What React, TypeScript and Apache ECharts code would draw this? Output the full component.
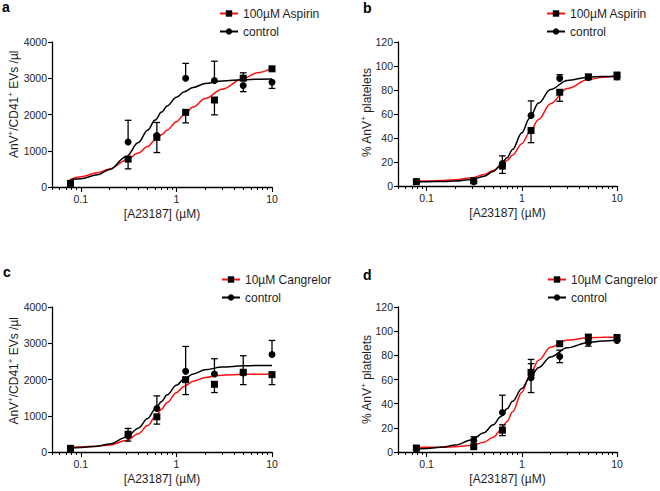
import React, { useEffect, useRef } from "react";
import * as echarts from "echarts";

// ---------- data ----------
const concentrations = [0.078, 0.3125, 0.625, 1.25, 2.5, 5, 10];
const fitConc = [0.078, 0.1, 0.15, 0.2, 0.3, 0.4, 0.5, 0.6, 0.7, 0.8, 1, 1.2, 1.5, 2, 3, 5, 7, 10];
const xTickValues = [0.1, 1, 10];
const xTickLabels = ["0.1", "1", "10"];
const xMin = 0.05;
const xMax = 10;

// Panel a: EVs, aspirin
const aControlMean = [110, 1240, 1420, 3000, 2940, 2800, 2890];
const aControlUp = [0, 600, 360, 410, 530, 0, 0];
const aControlDown = [0, 0, 0, 0, 0, 170, 170];
const aAspirinMean = [100, 770, 1370, 2060, 2400, 3000, 3260];
const aAspirinUp = [0, 0, 0, 0, 0, 150, 0];
const aAspirinDown = [0, 270, 420, 290, 410, 0, 0];
const aControlFit = [197, 230, 337, 483, 843, 1225, 1565, 1845, 2066, 2237, 2473, 2620, 2748, 2852, 2926, 2962, 2972, 2976];
const aAspirinFit = [211, 285, 395, 496, 745, 935, 1115, 1300, 1440, 1570, 1800, 1985, 2210, 2440, 2700, 2994, 3150, 3280];

// Panel b: % AnV+ platelets, aspirin
const bControlMean = [3.8, 3.6, 18.8, 58.8, 89.7, 90.5, 91.0];
const bControlUp = [0, 0, 6.3, 12.1, 3.0, 0, 0];
const bControlDown = [0, 0, 0, 0, 0, 0, 2.4];
const bAspirinMean = [3.6, 4.4, 16.6, 46.3, 78.1, 91.0, 92.4];
const bAspirinUp = [0, 0, 0, 0, 0, 1.5, 2.2];
const bAspirinDown = [0, 0, 6.1, 10.2, 7.5, 0, 0];
const bControlFit = [3.5, 3.6, 3.8, 4.1, 5.5, 8.1, 12.1, 17.3, 23.6, 30.5, 44.3, 56.2, 69.1, 80.4, 87.9, 90.7, 91.2, 91.4];
const bAspirinFit = [4.1, 4.2, 4.6, 5.2, 6.9, 9.5, 12.9, 16.8, 21.2, 25.9, 35.3, 44.2, 55.5, 68.5, 81.2, 88.7, 90.7, 91.7];

// Panel c: EVs, cangrelor
const cControlMean = [100, 450, 1200, 2225, 2152, 2180, 2692];
const cControlUp = [0, 200, 348, 687, 421, 476, 385];
const cControlDown = [0, 0, 0, 0, 0, 0, 0];
const cCangrelorMean = [100, 490, 971, 1996, 1868, 2200, 2134];
const cCangrelorUp = [0, 0, 0, 0, 0, 0, 0];
const cCangrelorDown = [0, 190, 202, 412, 228, 341, 275];
const cControlFit = [112, 123, 162, 223, 410, 657, 924, 1176, 1396, 1577, 1841, 2009, 2155, 2269, 2345, 2377, 2384, 2388];
const cCangrelorFit = [135, 139, 159, 194, 315, 503, 730, 964, 1181, 1366, 1637, 1808, 1952, 2055, 2119, 2142, 2147, 2149];

// Panel d: % AnV+ platelets, cangrelor
const dControlMean = [2.5, 9.6, 32.7, 61.5, 79.1, 90.9, 92.3];
const dControlUp = [0, 3, 14.3, 11.6, 5.2, 0, 0];
const dControlDown = [0, 0, 0, 12.3, 5.2, 3.3, 0];
const dCangrelorMean = [3.3, 4.4, 18.1, 65.9, 89.6, 95.1, 94.8];
const dCangrelorUp = [0, 0, 4.4, 10.7, 0, 0, 0];
const dCangrelorDown = [0, 0, 4.6, 0, 0, 0, 0];
const dControlFit = [2.5, 2.9, 4.1, 5.7, 10.2, 16.0, 22.5, 29.2, 35.8, 41.9, 52.5, 60.8, 69.8, 78.7, 86.3, 90.6, 91.8, 92.4];
const dCangrelorFit = [3.8, 3.85, 4.0, 4.25, 5.5, 8.0, 12.2, 18.0, 25.3, 33.3, 49.4, 62.7, 76.0, 86.6, 92.6, 94.6, 94.9, 95.0];

const aspirinName = "100µM Aspirin";
const cangrelorName = "10µM Cangrelor";
const controlName = "control";
const xTitle = "[A23187] (µM)";

// ---------- styling ----------
const FONT = "'Liberation Sans', Arial, Helvetica, sans-serif";
const TXT = "#1e1e1e";
const RED = "#ff1010";
const BLACK = "#000000";

const lg = (v: number) => Math.log10(v);

const minorTickValues: number[] = [];
for (let e = -2; e <= 0; e++) {
  for (let k = 2; k <= 9; k++) {
    const v = k * Math.pow(10, e);
    if (v >= xMin - 1e-9 && v < xMax) minorTickValues.push(lg(v));
  }
}

const grids = [
  { left: 52, top: 42, width: 220, height: 145 },
  { left: 398, top: 42, width: 219, height: 144 },
  { left: 52, top: 307, width: 220, height: 145 },
  { left: 398, top: 307, width: 219, height: 145 },
];

const yRanges = [
  { max: 4000, interval: 1000 },
  { max: 120, interval: 20 },
  { max: 4000, interval: 1000 },
  { max: 120, interval: 20 },
];

function buildX(gi: number) {
  const major = {
    type: "value",
    gridIndex: gi,
    position: "bottom",
    min: lg(xMin),
    max: lg(xMax),
    name: xTitle,
    nameLocation: "middle",
    nameGap: 21,
    nameTextStyle: { fontSize: 12, color: TXT, fontFamily: FONT },
    axisLine: { show: true, onZero: false, lineStyle: { color: BLACK, width: 1.3 } },
    axisTick: {
      show: true,
      length: 5,
      lineStyle: { color: BLACK, width: 1.1 },
      customValues: xTickValues.map(lg),
    },
    axisLabel: {
      show: true,
      fontSize: 10.5,
      color: TXT,
      fontFamily: FONT,
      margin: 6,
      customValues: xTickValues.map(lg),
      formatter: (v: number) => {
        const i = xTickValues.findIndex((t) => Math.abs(lg(t) - v) < 1e-6);
        return i >= 0 ? xTickLabels[i] : "";
      },
    },
    splitLine: { show: false },
  };
  const minor = {
    type: "value",
    gridIndex: gi,
    position: "bottom",
    offset: 0,
    min: lg(xMin),
    max: lg(xMax),
    axisLine: { show: false, onZero: false },
    axisTick: {
      show: true,
      length: 3,
      lineStyle: { color: BLACK, width: 1 },
      customValues: minorTickValues,
    },
    axisLabel: { show: false },
    splitLine: { show: false },
  };
  return [major, minor];
}

function buildY(gi: number) {
  const r = yRanges[gi];
  return {
    type: "value",
    gridIndex: gi,
    position: "left",
    min: 0,
    max: r.max,
    interval: r.interval,
    axisLine: { show: true, onZero: false, lineStyle: { color: BLACK, width: 1.3 } },
    axisTick: { show: true, length: 4, lineStyle: { color: BLACK, width: 1.1 } },
    axisLabel: {
      fontSize: 10.5,
      color: TXT,
      fontFamily: FONT,
      margin: 5,
      formatter: (v: number) => String(v),
    },
    splitLine: { show: false },
  };
}

function curve(gi: number, name: string, values: number[], color: string, symbol: string) {
  return {
    type: "line",
    name,
    xAxisIndex: gi * 2,
    yAxisIndex: gi,
    data: fitConc.map((c, i) => [lg(c), values[i]]),
    smooth: 0.35,
    smoothMonotone: "x",
    showSymbol: false,
    symbol,
    symbolSize: 7,
    itemStyle: { color: BLACK },
    lineStyle: { color, width: 1.5 },
    z: 2,
    silent: true,
  };
}

function points(gi: number, id: string, mean: number[], symbol: string) {
  return {
    type: "scatter",
    name: id,
    xAxisIndex: gi * 2,
    yAxisIndex: gi,
    data: concentrations.map((c, i) => [lg(c), mean[i]]),
    symbol,
    symbolSize: 7,
    itemStyle: { color: BLACK, opacity: 1 },
    z: 4,
    silent: true,
  };
}

function errorBars(gi: number, id: string, mean: number[], up: number[], down: number[]) {
  return {
    type: "custom",
    name: id,
    xAxisIndex: gi * 2,
    yAxisIndex: gi,
    data: concentrations.map((c, i) => [lg(c), mean[i], up[i], down[i]]),
    encode: { x: 0, y: 1 },
    z: 3,
    silent: true,
    renderItem: (_params: any, api: any) => {
      const x = api.value(0);
      const m = api.value(1);
      const u = api.value(2);
      const d = api.value(3);
      const c = api.coord([x, m]);
      const half = 3.3;
      const st = { stroke: BLACK, lineWidth: 1.3 };
      const children: any[] = [];
      const addBar = (end: number) => {
        const t = api.coord([x, end]);
        children.push({ type: "line", shape: { x1: c[0], y1: c[1], x2: t[0], y2: t[1] }, style: st });
        children.push({ type: "line", shape: { x1: t[0] - half, y1: t[1], x2: t[0] + half, y2: t[1] }, style: st });
      };
      if (u > 0) addBar(m + u);
      if (d > 0) addBar(m - d);
      return { type: "group", children };
    },
  };
}

function legend(left: number, top: number, names: string[]) {
  return {
    orient: "vertical",
    left,
    top,
    padding: 0,
    itemWidth: 18,
    itemHeight: 8,
    itemGap: 5,
    selectedMode: false,
    textStyle: { fontSize: 12, color: TXT, fontFamily: FONT, lineHeight: 13 },
    data: names,
  };
}

const richBase = {
  n: { fontSize: 12, fontFamily: FONT, fill: TXT, color: TXT, lineHeight: 14 },
  s: { fontSize: 8, fontFamily: FONT, fill: TXT, color: TXT, lineHeight: 6, verticalAlign: "top" },
};

function yTitle(x: number, y: number, text: string) {
  return {
    type: "text",
    x,
    y,
    rotation: Math.PI / 2,
    silent: true,
    style: {
      text,
      x: 0,
      y: 0,
      textAlign: "center",
      textVerticalAlign: "middle",
      align: "center",
      verticalAlign: "middle",
      rich: richBase,
      fill: TXT,
      font: `12px ${FONT}`,
    },
  };
}

function panelLetter(x: number, y: number, t: string) {
  return {
    type: "text",
    x,
    y,
    silent: true,
    style: {
      text: t,
      fill: "#000",
      font: `bold 14px ${FONT}`,
      textAlign: "left",
      textVerticalAlign: "middle",
      align: "left",
      verticalAlign: "middle",
    },
  };
}

const evsTitle = "{n|AnV}{s|+}{n|/CD41}{s|+}{n| EVs /µl}";
const pctTitle = "{n|% AnV}{s|+}{n| platelets}";

function buildOption() {
  const xAxes: any[] = [];
  for (let g = 0; g < 4; g++) xAxes.push(...buildX(g));
  return {
    animation: false,
    backgroundColor: "#ffffff",
    textStyle: { fontFamily: FONT },
    grid: grids.map((g) => ({ ...g, containLabel: false, outerBoundsMode: "none" })),
    xAxis: xAxes,
    yAxis: [0, 1, 2, 3].map(buildY),
    legend: [
      legend(219, 7, [aspirinName, controlName]),
      legend(546, 7, [aspirinName, controlName]),
      legend(221, 273, [cangrelorName, controlName]),
      legend(547, 273, [cangrelorName, controlName]),
    ],
    graphic: [
      panelLetter(2, 7, "a"),
      panelLetter(363, 8, "b"),
      panelLetter(3, 272, "c"),
      panelLetter(363, 275, "d"),
      yTitle(13.8, 104.3, evsTitle),
      yTitle(366.7, 112.7, pctTitle),
      yTitle(13.8, 370.8, evsTitle),
      yTitle(366.7, 379.7, pctTitle),
    ],
    series: [
      // panel a
      curve(0, aspirinName, aAspirinFit, RED, "rect"),
      curve(0, controlName, aControlFit, BLACK, "circle"),
      errorBars(0, "a-asp-err", aAspirinMean, aAspirinUp, aAspirinDown),
      errorBars(0, "a-ctl-err", aControlMean, aControlUp, aControlDown),
      points(0, "a-asp-pts", aAspirinMean, "rect"),
      points(0, "a-ctl-pts", aControlMean, "circle"),
      // panel b
      curve(1, aspirinName, bAspirinFit, RED, "rect"),
      curve(1, controlName, bControlFit, BLACK, "circle"),
      errorBars(1, "b-asp-err", bAspirinMean, bAspirinUp, bAspirinDown),
      errorBars(1, "b-ctl-err", bControlMean, bControlUp, bControlDown),
      points(1, "b-asp-pts", bAspirinMean, "rect"),
      points(1, "b-ctl-pts", bControlMean, "circle"),
      // panel c
      curve(2, cangrelorName, cCangrelorFit, RED, "rect"),
      curve(2, controlName, cControlFit, BLACK, "circle"),
      errorBars(2, "c-can-err", cCangrelorMean, cCangrelorUp, cCangrelorDown),
      errorBars(2, "c-ctl-err", cControlMean, cControlUp, cControlDown),
      points(2, "c-can-pts", cCangrelorMean, "rect"),
      points(2, "c-ctl-pts", cControlMean, "circle"),
      // panel d
      curve(3, cangrelorName, dCangrelorFit, RED, "rect"),
      curve(3, controlName, dControlFit, BLACK, "circle"),
      errorBars(3, "d-can-err", dCangrelorMean, dCangrelorUp, dCangrelorDown),
      errorBars(3, "d-ctl-err", dControlMean, dControlUp, dControlDown),
      points(3, "d-can-pts", dCangrelorMean, "rect"),
      points(3, "d-ctl-pts", dControlMean, "circle"),
    ],
  };
}

export default function App() {
  const ref = useRef<HTMLDivElement | null>(null);
  useEffect(() => {
    document.body.style.margin = "0";
    if (!ref.current) return;
    const chart = echarts.init(ref.current, undefined, { renderer: "svg" });
    chart.setOption(buildOption() as any);
    return () => {
      chart.dispose();
    };
  }, []);
  return (
    <div
      ref={ref}
      style={{ position: "absolute", left: 0, top: 0, width: 660, height: 491, background: "#fff" }}
    />
  );
}
